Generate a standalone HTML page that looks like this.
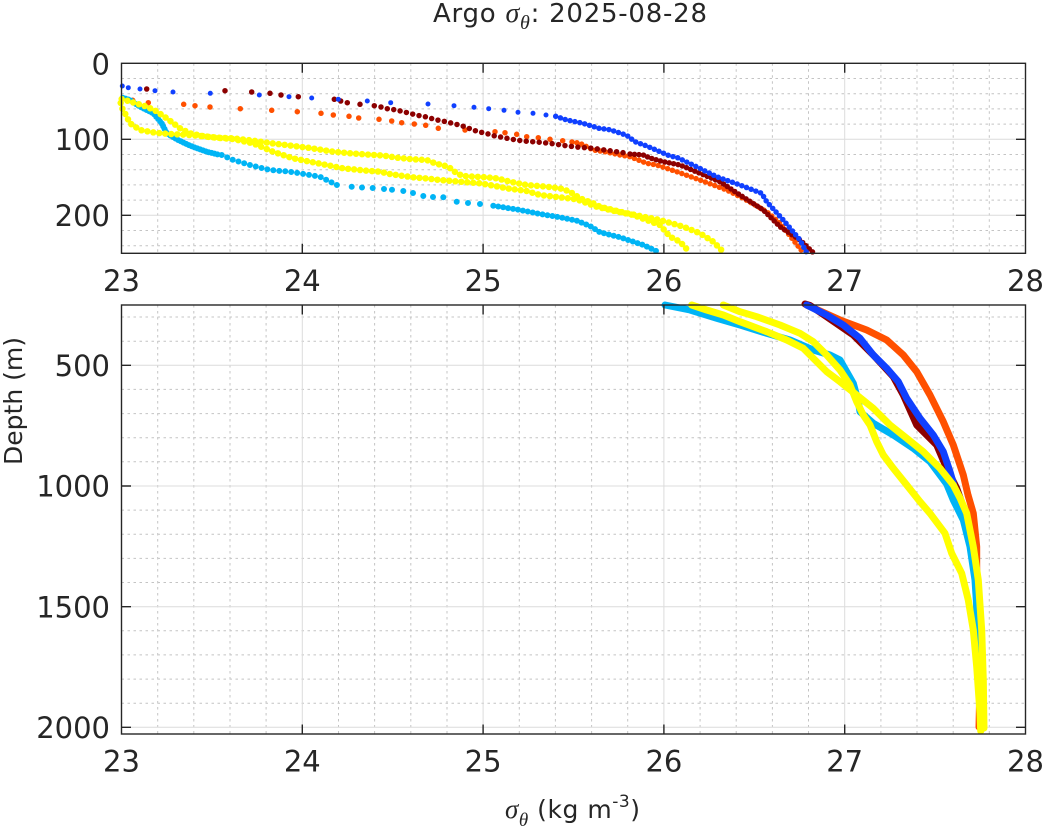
<!DOCTYPE html>
<html><head><meta charset="utf-8"><style>
html,body{margin:0;padding:0;background:#fff;}
svg{display:block;}
text{font-family:"DejaVu Sans","Liberation Sans",sans-serif;fill:#262626;}
.ser{font-family:"Liberation Serif","DejaVu Serif",serif;font-style:italic;}
</style></head><body>
<svg width="1044" height="835" viewBox="0 0 1044 835" xmlns="http://www.w3.org/2000/svg">
<rect width="1044" height="835" fill="#fff"/>

<!-- ===== TOP PANEL GRID ===== -->
<g stroke="#c4c4c4" stroke-width="1" stroke-dasharray="2.5 3.5" fill="none">
<path d="M157.7 63.3V253.3M193.8 63.3V253.3M230 63.3V253.3M266.1 63.3V253.3M338.5 63.3V253.3M374.6 63.3V253.3M410.8 63.3V253.3M447 63.3V253.3M519.3 63.3V253.3M555.4 63.3V253.3M591.6 63.3V253.3M627.7 63.3V253.3M700.1 63.3V253.3M736.2 63.3V253.3M772.4 63.3V253.3M808.5 63.3V253.3M880.9 63.3V253.3M917 63.3V253.3M953.2 63.3V253.3M989.3 63.3V253.3"/>
<path d="M121.5 78.5H1025.5M121.5 93.7H1025.5M121.5 108.9H1025.5M121.5 124.1H1025.5M121.5 154.5H1025.5M121.5 169.7H1025.5M121.5 184.9H1025.5M121.5 200.1H1025.5M121.5 230.5H1025.5M121.5 245.7H1025.5"/>
</g>
<g stroke="#dcdcdc" stroke-width="1" fill="none">
<path d="M302.3 63.3V253.3M483.1 63.3V253.3M663.9 63.3V253.3M844.7 63.3V253.3M121.5 139.3H1025.5M121.5 215.3H1025.5"/>
</g>

<!-- ===== BOTTOM PANEL GRID ===== -->
<g stroke="#c4c4c4" stroke-width="1" stroke-dasharray="2.5 3.5" fill="none">
<path d="M157.7 305V734M193.8 305V734M230 305V734M266.1 305V734M338.5 305V734M374.6 305V734M410.8 305V734M447 305V734M519.3 305V734M555.4 305V734M591.6 305V734M627.7 305V734M700.1 305V734M736.2 305V734M772.4 305V734M808.5 305V734M880.9 305V734M917 305V734M953.2 305V734M989.3 305V734"/>
<path d="M121.5 317H1025.5M121.5 341.2H1025.5M121.5 389.4H1025.5M121.5 413.6H1025.5M121.5 437.7H1025.5M121.5 461.8H1025.5M121.5 510.1H1025.5M121.5 534.2H1025.5M121.5 558.4H1025.5M121.5 582.5H1025.5M121.5 630.8H1025.5M121.5 654.9H1025.5M121.5 679.1H1025.5M121.5 703.2H1025.5"/>
</g>
<g stroke="#dcdcdc" stroke-width="1" fill="none">
<path d="M302.3 305V734M483.1 305V734M663.9 305V734M844.7 305V734M121.5 365.3H1025.5M121.5 486H1025.5M121.5 606.7H1025.5M121.5 727.3H1025.5"/>
</g>

<!-- ===== TOP PANEL DATA ===== -->
<g fill="none" stroke-linecap="round" stroke-linejoin="round">
<!-- orange -->
<path stroke="#ff5000" stroke-width="5.5" d="M132.7 100.3h0M148.3 102.7h0M183.7 104.3h0M195 105.7h0M210 107h0M240.3 108.7h0M271.7 110.3h0M297.3 111.7h0M321 113.3h0M333.3 115h0M349 116.3h0M358.7 118h0M379 119.3h0M391.7 121h0M401.7 122.7h0M414.3 124h0M425.7 125.3h0M438.3 128.3h0M465 130h0M495 131.7h0M505 132.7h0M516.7 134.3h0M526.7 136.7h0M538.3 137.7h0M550 139.3h0M562.7 140.7h0"/>
<path stroke="#ff5000" stroke-width="5.5" stroke-dasharray="0 5" d="M572 142L580 143.3L593.3 150L606.7 152L620 155L630 156.7L646.7 163.3L656.7 165L676.7 171.7L700 180L726.7 190L743.3 198.3L766.7 211.7L780 223.3L793.3 240L803.3 252.7"/>
<!-- dark red -->
<path stroke="#8c0000" stroke-width="5.5" d="M146.7 89h0M225 90.7h0M251.7 92h0M270 93.3h0M281 95h0M298.3 96.7h0M334.3 99.3h0M340.7 101h0M347.3 102.7h0M360 104.3h0M374.3 105.7h0M381 107h0"/>
<path stroke="#8c0000" stroke-width="5.5" stroke-dasharray="0 6.5" d="M387.3 108.7L396.7 110L403 111.7L410 113.3L416 115L425 116.7L430.7 118.3L437.3 120L442.7 121L448.3 122.3L455 124L460.7 125.3L467.3 127.7L473.3 130L478.3 131.7L483.3 132.7L488.3 134L495 136L504 137.7L512.3 139.3L523.3 141L540 142.3L552.7 143.7L565.7 145.7L579.3 147.3L593.3 148.3L611.7 151L623.3 152.7"/>
<path stroke="#8c0000" stroke-width="5.5" stroke-dasharray="0 4.5" d="M630 154L643.3 155L650 158L663.3 161.7L680 165L700 173.3L720 181.7L740 195L763.3 210L780 226.7L800 240L813.3 252.7"/>
<!-- blue -->
<path stroke="#1040ff" stroke-width="5" d="M122.3 86h0M128.3 87.7h0M140 89h0M155 90.7h0M173 92h0M210.3 93.3h0M259.3 95h0M289 96.7h0M311.7 98h0M338.3 99.3h0M367.3 101h0M390.7 102.7h0M428 104h0M454 105.7h0M474 107.3h0M488.7 108.7h0M504 110.3h0M518 112.3h0M533 113.3h0M546 115h0"/>
<path stroke="#1040ff" stroke-width="5.5" stroke-dasharray="0 5" d="M555.7 116.3L566.7 120L583 123.3L599 128.3L610 129.7L626.7 135.3L635 141.7L646.7 146L660 151.7L670 156L676.7 157.3L693 165L716.7 176.7L740 185L761.7 193.3L766.7 201.7L783.3 220L800 240L806.7 252.7"/>
<!-- cyan -->
<path stroke="#00b4f5" stroke-width="6" stroke-dasharray="0 3" d="M122.7 97.7L130 100L140 106.7L153.3 113.3L161.7 123.3L166.7 133.3L176.7 139.3L190 145.7L206.7 151.7L218 154.5"/>
<path stroke="#00b4f5" stroke-width="6" stroke-dasharray="0 6" d="M221.7 155L233.3 160L250 165L266.7 169.3L276 170.7L286.7 171.3L300 173.3L320 176.7L338.3 185.7"/>
<path stroke="#00b4f5" stroke-width="6" d="M351.7 186.7h0M362 187.5h0M372.7 188h0M384 189h0M392 189.8h0M403.3 191h0M413 193h0M423.3 196h0M433 197h0M443.3 197.3h0M456.7 201.7h0M468 203h0M480 204h0"/>
<path stroke="#00b4f5" stroke-width="6" stroke-dasharray="0 5" d="M493.3 205.7L520 210L540 214L560 217.3L576.7 220.7L590 226L600 232.3L620 237.3L643.3 245L660 252.7"/>
<!-- yellow B -->
<path stroke="#ffff00" stroke-width="6.5" stroke-dasharray="0 6" d="M121.7 99L130 101.5L146.7 106.7L156 111L166.7 118.3L173 123L180 128.3L190 133.3L205 136.5L220 138L233 139L253 143.3L273 151.7L293 158.3L310 161.7L326.7 165L343 168.3L366.7 170.7L380 171.7L390 174L403.3 176L413.3 177.3L425 178.3L440 180L460 181.7L480 183.3L493.3 185.7L506.7 188.3L526.7 191L540 195L560 197.3L576.7 199.3L596.7 206.7L613.3 210.7L633.3 215L646.7 220L660 225L670 236.7L680 241.7L690 252.7"/>
<!-- yellow A -->
<path stroke="#ffff00" stroke-width="6.5" stroke-dasharray="0 6" d="M120.7 103L122 108L125 113.3L130 123.3L140 130L155 132.7L170 134L185 134.7L198 135.7L218 137.7L233 138.3L252 140.5L271.7 143.3L290 145.5L310 148L333.3 151.7L350 153.3L367 154.5L383 155.5L396.7 157.7L413.3 159.3L426.7 160L435 163.3L448.3 166.7L456.7 173.3L463.3 176L475 176.7L486.7 177.3L496.7 178.3L510 181.7L526.7 185L546.7 186.7L560 188.3L570 191.7L580 198.3L593.3 203.3L600 206.7L620 211.7L640 216L660 220L683.3 226.7L700 233.3L713.3 241.7L724 252.7"/>
</g>

<!-- ===== BOTTOM PANEL DATA ===== -->
<g fill="none" stroke-linecap="round" stroke-linejoin="round" stroke-width="7">
<path stroke="#ff5000" d="M806.7 305L820 311L840 320L866.7 330L886.7 340L903.3 355L916.7 371.7L930 395L943.3 421.7L953.3 445L963.3 475L968 495L973.3 513.3L976.7 546.7L976.7 630L980 680L979 727"/>
<path stroke="#8c0000" d="M805 304L810 305.5L826.7 316.7L853.3 335L873.3 355L893.3 376.7L903.3 395L916.7 425L936.7 445L946.7 468.3L956.7 488.3L966 515L973 546L977 590L980 650L981 730"/>
<path stroke="#1040ff" d="M806.7 305L826.7 315L843.3 325L860 338.3L873.3 355L886.7 368.3L898.3 381.7L906.7 398.3L920 418.3L933.3 435L943.3 451.7L950 471.7L953 482L956.7 500L966.7 520L973.3 546.7L976.7 580L978.3 623.3"/>
<path stroke="#00b4f5" d="M665 305L690 310L716.7 318.3L740 325L766.7 333.3L790 340L813.3 350L830 355L840 360L846.7 371.7L853.3 383.3L858.3 401.7L860 411.7L873.3 423.3L893.3 435L913.3 448.3L930 461.7L940 475L946.7 484L953.3 500L963.3 520L970 546.7L975 580L976.7 606.7L978 650L980 700L981 730"/>
<path stroke="#ffff00" d="M691.7 305L706.7 310L723.3 315L740 321.7L766.7 331.7L786.7 340L803.3 348.3L813.3 358.3L826.7 371.7L840 381.7L856.7 395L873.3 408.3L890 425L906.7 438.3L923.3 451.7L940 468.3L953.3 485L960 498L966.7 513.3L973.3 546.7L978.3 580L981.7 630L983.3 680L984 728"/>
<path stroke="#ffff00" d="M723.3 305L740 311.7L756.7 316.7L780 325L800 333.3L813.3 341.7L826.7 355L840 370L850 385L856.7 401.7L863.3 415L870 425L876.7 441.7L883.3 455L893.3 468.3L906.7 485L920 501.7L930 513.3L945 533.3L951.7 553.3L961.7 573.3L968.3 600L973.3 630L976.7 666.7L980 713.3L980.7 731"/>
</g>

<!-- ===== FRAMES & TICKS ===== -->
<g stroke="#262626" stroke-width="1.4" fill="none">
<rect x="121.5" y="63.3" width="904" height="190"/>
<path d="M302.3 253.3v-9.5M483.1 253.3v-9.5M663.9 253.3v-9.5M844.7 253.3v-9.5M302.3 63.3v9.5M483.1 63.3v9.5M663.9 63.3v9.5M844.7 63.3v9.5"/>
<path d="M121.5 139.3h9.5M121.5 215.3h9.5M1025.5 139.3h-9.5M1025.5 215.3h-9.5"/>
<rect x="121.5" y="305" width="904" height="429"/>
<path d="M302.3 734v-9.5M483.1 734v-9.5M663.9 734v-9.5M844.7 734v-9.5M302.3 305v9.5M483.1 305v9.5M663.9 305v9.5M844.7 305v9.5"/>
<path d="M121.5 365.3h9.5M121.5 486h9.5M121.5 606.7h9.5M121.5 727.3h9.5M1025.5 365.3h-9.5M1025.5 486h-9.5M1025.5 606.7h-9.5M1025.5 727.3h-9.5"/>
</g>

<!-- ===== TICK LABELS ===== -->
<g font-size="29" text-anchor="middle">
<text x="121.5" y="291">23</text>
<text x="302.3" y="291">24</text>
<text x="483.1" y="291">25</text>
<text x="663.9" y="291">26</text>
<text x="844.7" y="291">27</text>
<text x="1025.5" y="291">28</text>
<text x="121.5" y="771.7">23</text>
<text x="302.3" y="771.7">24</text>
<text x="483.1" y="771.7">25</text>
<text x="663.9" y="771.7">26</text>
<text x="844.7" y="771.7">27</text>
<text x="1025.5" y="771.7">28</text>
</g>
<g font-size="29" text-anchor="end">
<text x="110" y="74.5">0</text>
<text x="110" y="150">100</text>
<text x="110" y="226">200</text>
<text x="110" y="376">500</text>
<text x="110" y="496.5">1000</text>
<text x="110" y="617.3">1500</text>
<text x="110" y="738">2000</text>
</g>

<!-- ===== TITLE ===== -->
<text x="433" y="22" font-size="26" textLength="274" lengthAdjust="spacing">Argo <tspan class="ser" font-size="28">σ</tspan><tspan class="ser" font-size="20" dy="7">θ</tspan><tspan dy="-7">: 2025-08-28</tspan></text>

<!-- ===== X LABEL ===== -->
<text x="505" y="818" font-size="25" textLength="135" lengthAdjust="spacing"><tspan class="ser" font-size="27">σ</tspan><tspan class="ser" font-size="19" dy="8">θ</tspan><tspan dy="-8"> (kg m</tspan><tspan font-size="17" dy="-11">-3</tspan><tspan dy="11">)</tspan></text>

<!-- ===== Y LABEL ===== -->
<text transform="translate(22,401) rotate(-90)" font-size="25" text-anchor="middle">Depth (m)</text>
</svg>
</body></html>
